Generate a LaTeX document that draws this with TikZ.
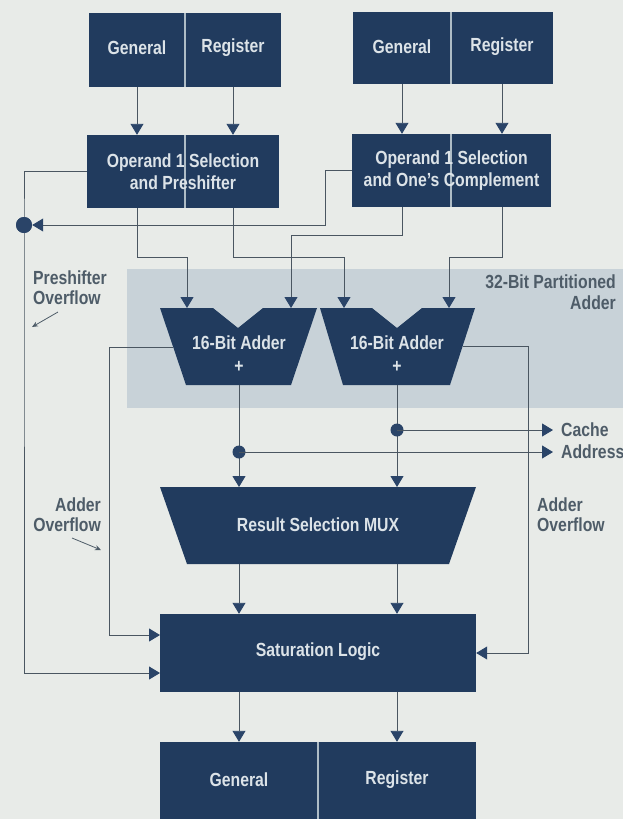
\documentclass[tikz,border=0pt]{standalone}
\usepackage{fontspec}
\setmainfont{Liberation Sans}[FakeStretch=0.83]
\usetikzlibrary{arrows.meta}
\definecolor{bgc}{HTML}{E8EBE8}
\definecolor{navy}{HTML}{213B5E}
\definecolor{boxtext}{HTML}{DCE3E8}
\definecolor{divc}{HTML}{AEBCC6}
\definecolor{wirec}{HTML}{4A5661}
\definecolor{arrc}{HTML}{2A4468}
\definecolor{lblc}{HTML}{4E5C68}
\definecolor{regc}{HTML}{C8D2D8}
\begin{document}
\begin{tikzpicture}[x=1pt,y=-1pt,
  blk/.style={fill=navy, draw=none, inner sep=0pt},
  boxtxt/.style={text=boxtext, inner sep=0pt, align=center,
    font=\bfseries\fontsize{19}{21.5}\selectfont},
  lbl/.style={text=lblc, inner sep=0pt,
    font=\bfseries\fontsize{19}{20}\selectfont},
  divider/.style={draw=divc, line width=1.6pt},
  wire/.style={draw=wirec, line width=0.9pt},
  arr/.style={wire, -{Triangle[width=13pt,length=11pt,color=arrc]}},
  pointer/.style={draw=lblc, line width=0.8pt, -{Stealth[width=5pt,length=6pt]}},
  jdot/.style={circle, fill=arrc, draw=none, inner sep=0pt, minimum size=13pt},
]
\fill[bgc] (0,0) rectangle (623,819);
\useasboundingbox (0,0) rectangle (623,819);
% partitioned adder region
\fill[regc] (127,269) rectangle (623,408);

% ---- top register files
\node[blk, minimum width=96pt, minimum height=74pt] (g1) at (137,50) {};
\node[blk, minimum width=96pt, minimum height=74pt] (r1) at (233,50) {};
\draw[divider] (g1.north east) -- (g1.south east);
\node[boxtxt] (g1t) at (137,48) {General};
\node[boxtxt] (r1t) at (233,48) {Register};

\node[blk, minimum width=98pt, minimum height=72pt] (g2) at (402,48) {};
\node[blk, minimum width=102pt, minimum height=72pt] (r2) at (502,48) {};
\draw[divider] (g2.north east) -- (g2.south east);
\node[boxtxt] (g2t) at (402,47) {General};
\node[boxtxt] (r2t) at (502,47) {Register};

% ---- operand selection boxes
\node[blk, minimum width=192pt, minimum height=73pt] (op1) at (183,171.5) {};
\draw[divider] (185,135) -- (185,208);
\node[boxtxt] (op1t) at (op1) {Operand 1 Selection\\and Preshifter};

\node[blk, minimum width=199pt, minimum height=73pt] (op2) at (451.5,170.5) {};
\draw[divider] (451,134) -- (451,207);
\node[boxtxt] (op2t) at (op2) {Operand 1 Selection\\and One's Complement};

% ---- adders
\fill[navy] (160,308) -- (213,308) -- (238,328) -- (263,308) -- (317,308)
  -- (291,385) -- (186,385) -- cycle;
\fill[navy] (320,308) -- (372,308) -- (397,328) -- (422,308) -- (475,308)
  -- (450,385) -- (343,385) -- cycle;
\node[boxtxt] (add1) at (239,343) {16-Bit Adder};
\node[boxtxt] (add1p) at (239,367) {+};
\node[boxtxt] (add2) at (397,343) {16-Bit Adder};
\node[boxtxt] (add2p) at (397,367) {+};
\coordinate (a1l) at (187,308);
\coordinate (a1r) at (291,308);
\coordinate (a2l) at (344,308);
\coordinate (a2r) at (449,308);
\coordinate (a1o) at (173,347);
\coordinate (a2o) at (463,346);
\coordinate (a1out) at (239,385);
\coordinate (a2out) at (397,385);

% ---- MUX
\fill[navy] (160,487) -- (476,487) -- (449,564) -- (187,564) -- cycle;
\node[boxtxt] (mux) at (318,525) {Result Selection MUX};
\coordinate (m1in) at (239,487);
\coordinate (m2in) at (397,487);
\coordinate (m1out) at (239,564);
\coordinate (m2out) at (397,564);

% ---- saturation logic
\node[blk, minimum width=316pt, minimum height=78pt] (sat) at (318,653) {};
\node[boxtxt] (satt) at (318,652) {Saturation Logic};
\coordinate (satin1) at (160,635);
\coordinate (satin2) at (160,673);

% ---- bottom register file
\node[blk, minimum width=158pt, minimum height=78pt] (g3) at (239,781) {};
\node[blk, minimum width=158pt, minimum height=78pt] (r3) at (397,781) {};
\draw[divider] (g3.north east) -- (g3.south east);
\node[boxtxt] (g3t) at (239,780) {General};
\node[boxtxt] (r3t) at (397,780) {Register};

% ---- wires
\draw[arr] (g1.south) -- (g1.south |- op1.north);
\draw[arr] (r1.south) -- (r1.south |- op1.north);
\draw[arr] (g2.south) -- (g2.south |- op2.north);
\draw[arr] (r2.south) -- (r2.south |- op2.north);

\draw[arr] (g1.south |- op1.south) -- ++(0,49) -| (a1l);
\draw[arr] (r1.south |- op1.south) -- ++(0,49) -| (a2l);
\draw[arr] (g2.south |- op2.south) -- ++(0,28) -| (a1r);
\draw[arr] (r2.south |- op2.south) -- ++(0,50) -| (a2r);

% preshifter overflow
\node[jdot, minimum size=16pt] (pdot) at (24,225) {};
\draw[arr] (op1.west) -| (pdot.center) |- (satin2);
\draw[arr] (op2.west) -- ++(-26,0) |- (pdot.east);
\node[jdot, minimum size=16pt] at (pdot) {};

% adder overflows
\draw[arr] (a1o) -- ++(-64,0) |- (satin1);
\draw[arr] (a2o) -- ++(65,0) |- (sat.east);

% adder outputs
\draw[arr] (a1out) -- (m1in);
\draw[arr] (a2out) -- (m2in);
\node[lbl, anchor=west] (cache) at (561,430) {Cache};
\node[lbl, anchor=west] (addr) at (561,452) {Address};
\node[jdot] (d2) at (397,430) {};
\node[jdot] (d1) at (239,452) {};
\draw[arr, shorten >=8pt] (d2.center) -- (cache.west);
\draw[arr, shorten >=8pt] (d1.center) -- (addr.west);

% mux -> saturation -> registers
\draw[arr] (m1out) -- (m1out |- sat.north);
\draw[arr] (m2out) -- (m2out |- sat.north);
\draw[arr] (sat.south -| g3.south) -- (g3.north);
\draw[arr] (sat.south -| r3.south) -- (r3.north);

% ---- labels
\node[lbl, anchor=east] (pa1) at (616,282) {32-Bit Partitioned};
\node[lbl, anchor=east] (pa2) at (616,303) {Adder};

\node[lbl, anchor=west] (po1) at (33,278) {Preshifter};
\node[lbl, anchor=west] (po2) at (33,298) {Overflow};
\coordinate (pp1) at (58,312);
\coordinate (pp2) at (32,327);
\draw[pointer] (pp1) -- (pp2);

\node[lbl, anchor=east] (ao1) at (101,505) {Adder};
\node[lbl, anchor=east] (ao2) at (101,525) {Overflow};
\coordinate (ap1) at (72,538);
\coordinate (ap2) at (101,550);
\draw[pointer] (ap1) -- (ap2);

\node[lbl, anchor=west] (ar1) at (537,505) {Adder};
\node[lbl, anchor=west] (ar2) at (537,525) {Overflow};
\end{tikzpicture}
\end{document}
